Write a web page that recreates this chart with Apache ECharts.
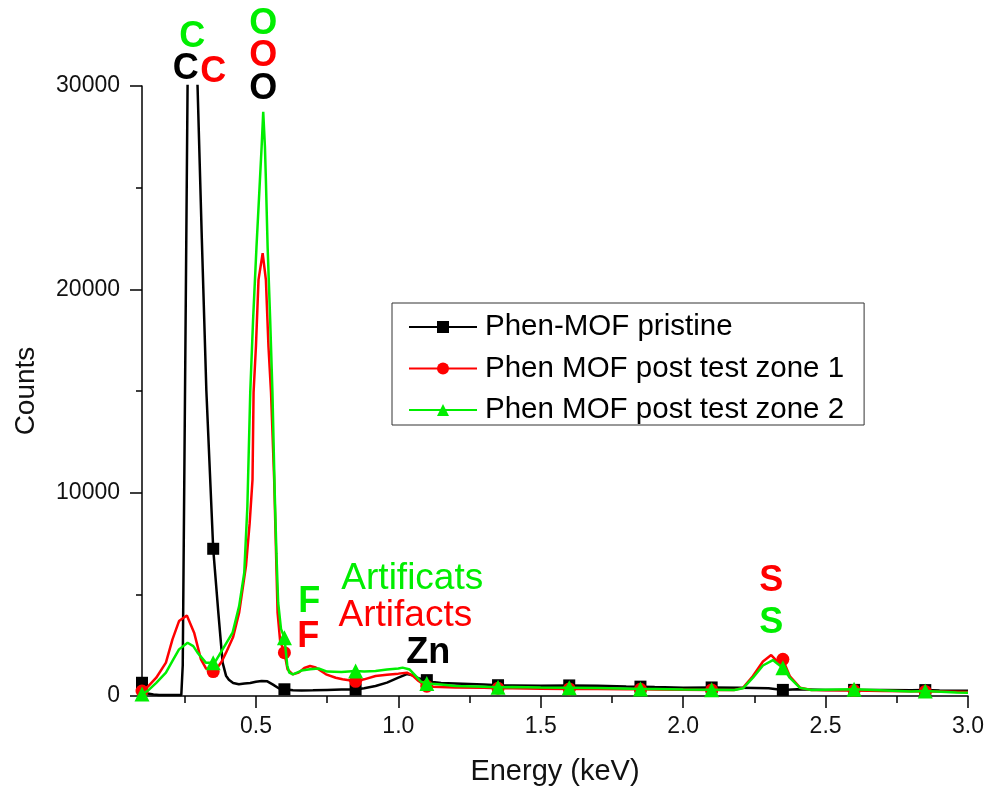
<!DOCTYPE html>
<html><head><meta charset="utf-8">
<script src="https://cdn.jsdelivr.net/npm/echarts@6/dist/echarts.min.js"></script>
<style>html,body{margin:0;padding:0;background:#fff}#c{width:988px;height:791px}</style>
</head><body><div id="c"></div><script>
const seriesNames = ['Phen-MOF pristine', 'Phen MOF post test zone 1', 'Phen MOF post test zone 2'];
const seriesColors = ['#000000', '#ff0000', '#00ee00'];
const seriesSymbols = ['rect', 'circle', 'triangle'];

// marker positions (keV), shared by all series
const markerE = [0.10, 0.35, 0.60, 0.85, 1.10, 1.35, 1.60, 1.85, 2.10, 2.35, 2.60, 2.85];

// Phen-MOF pristine (black)
const blackE = [0.11,0.12,0.14,0.16,0.18,0.20,0.22,0.238,0.243,0.260,0.267,0.295,0.310,0.326,0.368,0.383,0.395,0.405,0.42,0.44,0.46,0.48,0.50,0.52,0.54,0.56,0.58,0.63,0.66,0.70,0.75,0.80,0.88,0.92,0.96,1.00,1.03,1.05,1.07,1.09,1.12,1.15,1.20,1.30,1.40,1.50,1.70,1.80,1.90,2.00,2.20,2.30,2.40,2.50,2.70,2.80,2.90,3.00];
const blackC = [250,120,70,55,50,45,45,50,1500,30000,43000,30000,22500,15000,4096,1640,1000,800,640,580,620,640,700,740,720,560,380,280,270,280,300,320,380,490,660,900,1080,1020,880,800,690,640,620,560,520,500,500,470,440,410,400,380,330,300,290,280,270,260];
const blackMarkerC = [650,7240,330,320,780,530,520,460,420,300,300,290];

// Phen MOF post test zone 1 (red)
const redE = [0.12,0.15,0.184,0.207,0.23,0.2575,0.283,0.307,0.325,0.36,0.38,0.395,0.42,0.441,0.465,0.478,0.488,0.4917,0.50,0.509,0.5236,0.535,0.544,0.553,0.564,0.570,0.576,0.585,0.611,0.629,0.65,0.67,0.69,0.71,0.746,0.78,0.804,0.88,0.92,0.96,1.00,1.03,1.05,1.07,1.09,1.12,1.20,1.30,1.40,1.50,1.70,1.80,1.90,2.00,2.18,2.21,2.245,2.28,2.309,2.33,2.374,2.41,2.45,2.70,2.80,2.90,3.00];
const redC = [450,900,1640,2785,3684,3964,3114,1802,1350,1300,1700,2131,2900,4096,6385,8500,10644,14917,17190,20466,21778,20466,17190,14917,10644,7367,4096,2700,1311,1065,1150,1380,1474,1400,1066,900,820,820,982,1050,1100,1149,1000,750,560,460,420,400,380,360,340,330,320,310,300,400,982,1700,2014,1700,982,410,300,250,230,220,200];
const redMarkerC = [245,1200,2131,720,480,380,350,330,300,1802,270,225];

// Phen MOF post test zone 2 (green)
const greenE = [0.12,0.15,0.184,0.21,0.23,0.26,0.28,0.295,0.324,0.36,0.383,0.418,0.441,0.459,0.47,0.48,0.49,0.502,0.514,0.52,0.5256,0.5316,0.535,0.541,0.55,0.558,0.566,0.572,0.578,0.588,0.61,0.617,0.63,0.66,0.69,0.72,0.75,0.80,0.88,0.92,0.96,1.00,1.015,1.04,1.06,1.08,1.15,1.20,1.30,1.40,1.50,1.70,1.82,1.90,2.00,2.18,2.21,2.245,2.28,2.315,2.33,2.36,2.374,2.41,2.45,2.80,2.96,3.00];
const greenC = [250,650,1150,1800,2293,2620,2450,2131,1640,1750,2293,3114,4420,6061,9332,14917,18500,22102,25368,27014,28733,27014,25368,22102,18500,14917,10000,7000,4600,3300,1500,1149,1066,1250,1311,1350,1200,1180,1200,1228,1300,1350,1395,1300,1000,700,560,491,460,440,420,390,360,340,320,300,380,900,1500,1768,1600,1200,900,400,300,220,170,160];
const greenMarkerC = [100,1640,2868,1228,620,430,410,340,310,1395,330,240];

// axis ticks
const xMajorTicks = [0.5, 1.0, 1.5, 2.0, 2.5, 3.0];
const xMinorTicks = [0.25, 0.75, 1.25, 1.75, 2.25, 2.75];

// element annotations: text, energy, counts, colour, bold
const annText = ['C','C','C','O','O','O','F','F','Artificats','Artifacts','Zn','S','S'];
const annE = [0.2762,0.2533,0.350,0.5256,0.5256,0.5256,0.6873,0.6838,1.049,1.0246,1.105,2.3096,2.3096];
const annC = [32402,30830,30707,33065,31468,29848,4602,2883,5781,3964,2097,5658,3571];
const annColor = ['#00ee00','#000000','#ff0000','#00ee00','#ff0000','#000000','#00ee00','#ff0000','#00ee00','#ff0000','#000000','#ff0000','#00ee00'];
const annBold = [1,1,1,1,1,1,1,1,0,0,1,1,1];

function buildData(E, C, mE, mC) {
  const pts = [];
  E.forEach((e, i) => {
    if (!mE.some(m => Math.abs(m - e) < 1e-9)) pts.push({ value: [e, C[i]], symbol: 'none' });
  });
  mE.forEach((e, i) => pts.push({ value: [e, mC[i]] }));
  pts.sort((a, b) => a.value[0] - b.value[0]);
  return pts;
}

const FONT = 'Liberation Sans, Arial, sans-serif';
const lineData = [
  buildData(blackE, blackC, markerE, blackMarkerC),
  buildData(redE, redC, markerE, redMarkerC),
  buildData(greenE, greenC, markerE, greenMarkerC)
];
const symSizes = [12, 13, 15];

const series = seriesNames.map((name, k) => ({
  name: name,
  type: 'line',
  data: lineData[k],
  symbol: seriesSymbols[k],
  symbolSize: symSizes[k],
  showSymbol: true,
  showAllSymbol: true,
  lineStyle: { color: seriesColors[k], width: 2.5 },
  itemStyle: { color: seriesColors[k] },
  emphasis: { disabled: true },
  z: 2 + k
}));

const chart = echarts.init(document.getElementById('c'), null, { renderer: 'canvas' });
chart.setOption({
  animation: false,
  backgroundColor: '#fff',
  textStyle: { fontFamily: FONT },
  grid: { left: 142, right: 20, top: 86, bottom: 94, containLabel: false },
  legend: {
    orient: 'vertical',
    left: 392,
    top: 303,
    data: seriesNames,
    itemWidth: 68,
    itemHeight: 15,
    itemGap: 11.5,
    padding: [9, 20, 0, 16],
    borderColor: '#333',
    borderWidth: 1,
    textStyle: { fontSize: 29.5, color: '#000', fontFamily: FONT, padding: [0, 0, 0, 3] }
  },
  xAxis: [{
    type: 'value', min: 0.1, max: 3.0, position: 'bottom',
    axisLine: { show: true, onZero: false, lineStyle: { color: '#000', width: 1.5 } },
    axisTick: { show: true, inside: false, length: 12, customValues: xMajorTicks, lineStyle: { color: '#000', width: 1.5 } },
    axisLabel: { customValues: xMajorTicks, formatter: v => Number(v).toFixed(1), fontSize: 23, color: '#111', margin: 19, fontFamily: FONT, showMaxLabel: true, showMinLabel: true },
    splitLine: { show: false },
    name: 'Energy (keV)', nameLocation: 'middle', nameGap: 61,
    nameTextStyle: { fontSize: 29, color: '#111', fontFamily: FONT }
  }, {
    type: 'value', min: 0.1, max: 3.0, position: 'bottom',
    axisLine: { show: false },
    axisTick: { show: true, inside: false, length: 7, customValues: xMinorTicks, lineStyle: { color: '#000', width: 1.5 } },
    axisLabel: { show: false },
    splitLine: { show: false }
  }],
  yAxis: {
    type: 'value', min: 0, max: 30000, interval: 10000,
    axisLine: { show: true, lineStyle: { color: '#000', width: 1.5 } },
    axisTick: { show: true, inside: false, length: 12, lineStyle: { color: '#000', width: 1.5 } },
    minorTick: { show: true, splitNumber: 2, length: 6, lineStyle: { color: '#000', width: 1.5 } },
    axisLabel: { fontSize: 23, color: '#111', margin: 22, fontFamily: FONT, formatter: v => String(v) },
    splitLine: { show: false },
    minorSplitLine: { show: false },
    name: 'Counts', nameLocation: 'middle', nameGap: 102,
    nameTextStyle: { fontSize: 28, color: '#111', fontFamily: FONT }
  },
  series: series
});

// place element annotations at their data coordinates through the chart's own scales
const graphics = annText.map((t, i) => {
  const p = chart.convertToPixel({ xAxisIndex: 0, yAxisIndex: 0 }, [annE[i], annC[i]]);
  return {
    type: 'text',
    x: p[0], y: p[1],
    silent: true,
    z: 100,
    style: {
      text: t,
      fill: annColor[i],
      font: (annBold[i] ? 'bold 36px ' : '37px ') + FONT,
      align: 'center',
      verticalAlign: 'middle'
    }
  };
});
chart.setOption({ graphic: graphics });
</script></body></html>
